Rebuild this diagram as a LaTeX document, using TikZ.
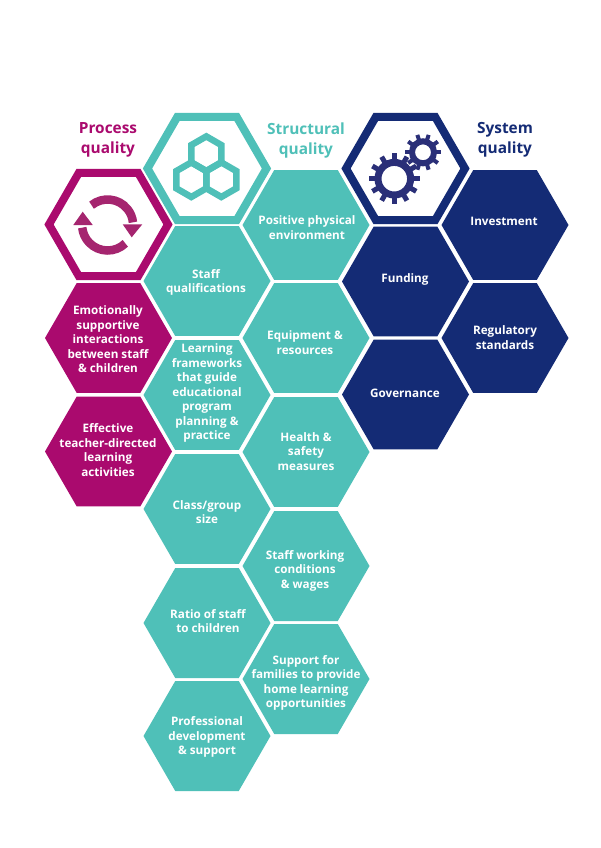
\documentclass[tikz,border=0pt]{standalone}
\usepackage{fontspec}
\setmainfont{Open Sans}
\usetikzlibrary{shapes.geometric}
\definecolor{processcol}{HTML}{AA0A6E}
\definecolor{structcol}{HTML}{4FC0B8}
\definecolor{systemcol}{HTML}{142B75}
\definecolor{cyclecol}{HTML}{A5256F}
\definecolor{gearcol}{HTML}{2A2F78}
\tikzset{
    hexcell/.style={regular polygon, regular polygon sides=6, minimum size=127pt, inner sep=0pt, outer sep=0pt},
    iconcell/.style={regular polygon, regular polygon sides=6, minimum size=119pt, inner sep=0pt, outer sep=0pt, line width=8pt, fill=white},
    smallcell/.style={regular polygon, regular polygon sides=6, shape border rotate=90, minimum size=34.6pt, inner sep=0pt, outer sep=0pt, line width=6.5pt, draw=structcol},
    celltext/.style={align=center, text=white, font=\fontsize{11.7}{14.5}\selectfont\bfseries, inner sep=0pt},
    titletext/.style={align=center, font=\fontsize{15.4}{20}\selectfont\bfseries, inner sep=0pt}
}
\begin{document}
\begin{tikzpicture}[x=1pt, y=1pt]
    \useasboundingbox[fill=white] (0,0) rectangle (600,-848);

    \node[titletext, text=processcol] (processtitle) at (108,-140) {Process\\quality};
    \node[titletext, text=structcol] (structtitle) at (306,-140) {Structural\\quality};
    \node[titletext, text=systemcol] (systemtitle) at (505,-140) {System\\quality};

    \node[iconcell, draw=processcol] (processicon) at (108.5,-224.5) {};
    \node[iconcell, draw=structcol] (structicon) at (207,-168.5) {};
    \node[iconcell, draw=systemcol] (systemicon) at (405.5,-168.5) {};

    \node[hexcell, fill=processcol] (emotional) at (108.5,-338) {};
    \node[hexcell, fill=processcol] (teacher) at (108.5,-451.5) {};

    \node[hexcell, fill=structcol] (staffqual) at (207,-281) {};
    \node[hexcell, fill=structcol] (frameworks) at (207,-395) {};
    \node[hexcell, fill=structcol] (groupsize) at (207,-509) {};
    \node[hexcell, fill=structcol] (ratio) at (207,-623) {};
    \node[hexcell, fill=structcol] (development) at (207,-736) {};

    \node[hexcell, fill=structcol] (physical) at (306,-225) {};
    \node[hexcell, fill=structcol] (equipment) at (306,-338) {};
    \node[hexcell, fill=structcol] (health) at (306,-452) {};
    \node[hexcell, fill=structcol] (working) at (306,-566) {};
    \node[hexcell, fill=structcol] (families) at (306,-679) {};

    \node[hexcell, fill=systemcol] (funding) at (405.5,-281.5) {};
    \node[hexcell, fill=systemcol] (governance) at (405.5,-394.5) {};
    \node[hexcell, fill=systemcol] (investment) at (505,-225) {};
    \node[hexcell, fill=systemcol] (regulatory) at (505,-338) {};

    \node[celltext] (emotionaltext) at (108,-339.5) {Emotionally\\supportive\\interactions\\between staff\\\& children};
    \node[celltext] (teachertext) at (108,-450) {Effective\\teacher-directed\\learning\\activities};
    \node[celltext] (staffqualtext) at (206,-282.5) {Staff\\qualifications};
    \node[celltext] (frameworkstext) at (207,-393) {Learning\\frameworks\\that guide\\educational\\program\\planning \&\\practice};
    \node[celltext] (groupsizetext) at (207,-512) {Class/group\\size};
    \node[celltext] (ratiotext) at (208,-621) {Ratio of staff\\to children};
    \node[celltext] (developmenttext) at (207,-737) {Professional\\development\\\& support};
    \node[celltext] (physicaltext) at (307,-227.5) {Positive physical\\environment};
    \node[celltext] (equipmenttext) at (305,-342.5) {Equipment \&\\resources};
    \node[celltext] (healthtext) at (306,-451.5) {Health \&\\safety\\measures};
    \node[celltext] (workingtext) at (305,-570.5) {Staff working\\conditions\\\& wages};
    \node[celltext] (familiestext) at (306,-683) {Support for\\families to provide\\home learning\\opportunities};
    \node[celltext] (fundingtext) at (405,-279.5) {Funding};
    \node[celltext] (governancetext) at (405,-393.5) {Governance};
    \node[celltext] (investmenttext) at (504,-221.5) {Investment};
    \node[celltext] (regulatorytext) at (505,-337.5) {Regulatory\\standards};

    \draw[cyclecol, line width=8.5pt] (107.6,-225) ++(129:25.5) arc (129:6:25.5);
    \draw[cyclecol, line width=8.5pt] (107.6,-225) ++(-46:25.5) arc (-46:-174:25.5);
    \fill[cyclecol] (122.7,-224.3) -- (142.3,-224.3) -- (131.7,-237.3) -- cycle;
    \fill[cyclecol] (73.3,-225) -- (92.7,-225) -- (82.7,-211.7) -- cycle;

    \node[smallcell] (tophex) at (206.3,-153.7) {};
    \node[smallcell] (lefthex) at (191.3,-179.7) {};
    \node[smallcell] (righthex) at (221.3,-179.7) {};

    \foreach \a in {0,30,...,330}
        \draw[gearcol, line width=5pt] (394.3,-178.7) ++(\a:17) -- ++(\a:8.3);
    \foreach \a in {0,36,...,324}
        \draw[gearcol, line width=4pt] (423,-152.3) ++(\a:12) -- ++(\a:6.3);
    \draw[gearcol, line width=7pt, fill=white] (394.3,-178.7) circle (16.3);
    \draw[gearcol, line width=6pt, fill=white] (423,-152.3) circle (11);
\end{tikzpicture}
\end{document}
